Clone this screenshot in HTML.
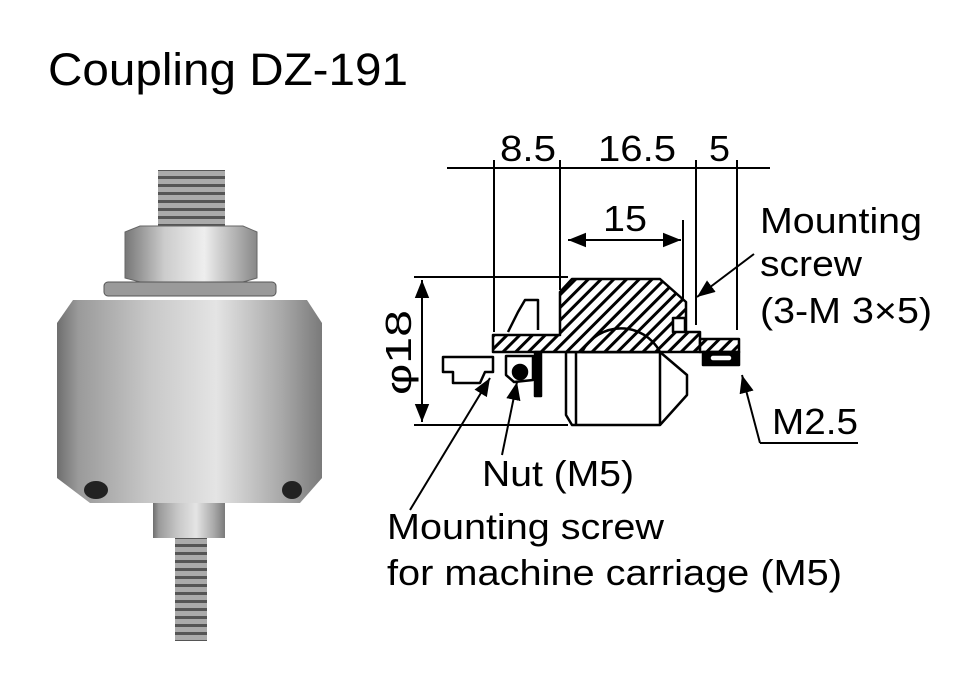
<!DOCTYPE html>
<html><head><meta charset="utf-8"><style>
html,body{margin:0;padding:0;background:#fff;}
svg{display:block;}
text{font-family:"Liberation Sans",Arial,sans-serif;fill:#000;}
</style></head><body>
<svg width="958" height="686" viewBox="0 0 958 686" xmlns="http://www.w3.org/2000/svg">
<defs>
<linearGradient id="cyl" x1="0" x2="1" y1="0" y2="0">
<stop offset="0" stop-color="#6e6e6e"/><stop offset="0.08" stop-color="#9a9a9a"/>
<stop offset="0.35" stop-color="#c8c8c8"/><stop offset="0.6" stop-color="#e4e4e4"/>
<stop offset="0.85" stop-color="#a8a8a8"/><stop offset="1" stop-color="#7a7a7a"/>
</linearGradient>
<linearGradient id="nut" x1="0" x2="1"><stop offset="0" stop-color="#777"/><stop offset="0.3" stop-color="#ccc"/><stop offset="0.6" stop-color="#eee"/><stop offset="1" stop-color="#888"/></linearGradient>
<pattern id="thr" width="8" height="8" patternUnits="userSpaceOnUse"><rect width="8" height="8" fill="#aaa"/><rect y="0" width="8" height="3" fill="#555"/></pattern>
<pattern id="hat" width="9" height="9" patternUnits="userSpaceOnUse" patternTransform="rotate(45)"><rect width="9" height="9" fill="#fff"/><rect width="3" height="9" fill="#000"/></pattern>
<marker id="ar" viewBox="0 0 10 10" refX="10" refY="5" markerWidth="9" markerHeight="9" orient="auto-start-reverse"><path d="M0,1 L10,5 L0,9 z" fill="#000"/></marker>
</defs>

<text x="48" y="85" font-size="45" textLength="360" lengthAdjust="spacingAndGlyphs">Coupling DZ-191</text>

<!-- photo -->
<rect x="158" y="170" width="67" height="56" fill="url(#thr)"/>
<rect x="175" y="537" width="32" height="104" fill="url(#thr)"/>
<polygon points="125,232 140,226 243,226 257,232 257,278 243,282 140,282 125,278" fill="url(#nut)" stroke="#666"/>
<rect x="104" y="282" width="172" height="14" rx="4" fill="#9a9a9a" stroke="#555"/>
<polygon points="73,300 307,300 322,323 322,478 300,503 90,503 57,478 57,323" fill="url(#cyl)"/>
<ellipse cx="96" cy="490" rx="12" ry="9" fill="#222"/>
<ellipse cx="292" cy="490" rx="10" ry="9" fill="#222"/>
<rect x="153" y="503" width="72" height="35" fill="url(#cyl)"/>

<!-- drawing dims -->
<g stroke="#000" stroke-width="2" fill="none">
<line x1="447" y1="168" x2="770" y2="168"/>
<line x1="494" y1="160" x2="494" y2="332"/>
<line x1="560" y1="160" x2="560" y2="290"/>
<line x1="696" y1="160" x2="696" y2="325"/>
<line x1="737" y1="160" x2="737" y2="330"/>
<line x1="683" y1="220" x2="683" y2="330"/>
<line x1="568" y1="240" x2="681" y2="240" marker-start="url(#ar)" marker-end="url(#ar)"/>
<line x1="414" y1="277" x2="568" y2="277"/>
<line x1="414" y1="425" x2="568" y2="425"/>
<line x1="422" y1="280" x2="422" y2="422" marker-start="url(#ar)" marker-end="url(#ar)"/>
</g>
<text x="500" y="161" font-size="36" textLength="56" lengthAdjust="spacingAndGlyphs">8.5</text>
<text x="598" y="161" font-size="36" textLength="78" lengthAdjust="spacingAndGlyphs">16.5</text>
<text x="709" y="161" font-size="36" textLength="21" lengthAdjust="spacingAndGlyphs">5</text>
<text x="603" y="231" font-size="36" textLength="44" lengthAdjust="spacingAndGlyphs">15</text>
<text transform="translate(411,395) rotate(-90)" font-size="36" textLength="85" lengthAdjust="spacingAndGlyphs">φ18</text>

<!-- part -->
<g stroke="#000" stroke-width="2.5" stroke-linejoin="round">
<polygon points="566,352 660,352 687,375 687,395 660,425 572,425 566,415" fill="#fff"/>
<line x1="576" y1="352" x2="576" y2="425"/>
<line x1="660" y1="352" x2="660" y2="425"/>
<polygon points="560,292 572,279 660,279 686,302 686,332 700,332 700,352 493,352 493,335 560,335" fill="url(#hat)"/>
<path d="M582,352 A44,44 0 0 1 660,352 Z" fill="url(#hat)"/>
<rect x="673" y="318" width="12" height="14" fill="#fff"/>
<rect x="700" y="339" width="39" height="13" fill="url(#hat)"/>
<rect x="703" y="352" width="36" height="13" fill="#000"/>
<rect x="710" y="355" width="22" height="6" rx="3" fill="#fff" stroke-width="1.5"/>
<polyline points="508,332 515,318 518,312 525,300 538,300 538,330" fill="none"/>
<polygon points="443,357 493,357 493,372 485,372 480,383 453,383 453,372 443,372" fill="#fff"/>
<polygon points="506,356 533,356 533,380 514,382 506,375" fill="#fff"/>
<circle cx="520" cy="372" r="7" fill="#000"/>
<rect x="535" y="352" width="6" height="44" fill="#000"/>
</g>

<!-- leaders -->
<g stroke="#000" stroke-width="2" fill="none">
<line x1="754" y1="254" x2="697" y2="297" marker-end="url(#ar)"/>
<line x1="760" y1="443" x2="742" y2="375" marker-end="url(#ar)"/>
<line x1="760" y1="443" x2="858" y2="443"/>
<line x1="502" y1="455" x2="517" y2="382" marker-end="url(#ar)"/>
<line x1="410" y1="510" x2="490" y2="378" marker-end="url(#ar)"/>
</g>
<text x="760" y="233" font-size="36" textLength="162" lengthAdjust="spacingAndGlyphs">Mounting</text>
<text x="760" y="276" font-size="36" textLength="102" lengthAdjust="spacingAndGlyphs">screw</text>
<text x="760" y="323" font-size="36" textLength="172" lengthAdjust="spacingAndGlyphs">(3-M 3×5)</text>
<text x="772" y="434" font-size="36" textLength="86" lengthAdjust="spacingAndGlyphs">M2.5</text>
<text x="482" y="486" font-size="36" textLength="152" lengthAdjust="spacingAndGlyphs">Nut (M5)</text>
<text x="387" y="539" font-size="36" textLength="277" lengthAdjust="spacingAndGlyphs">Mounting screw</text>
<text x="387" y="585" font-size="36" textLength="455" lengthAdjust="spacingAndGlyphs">for machine carriage (M5)</text>
</svg>
</body></html>
